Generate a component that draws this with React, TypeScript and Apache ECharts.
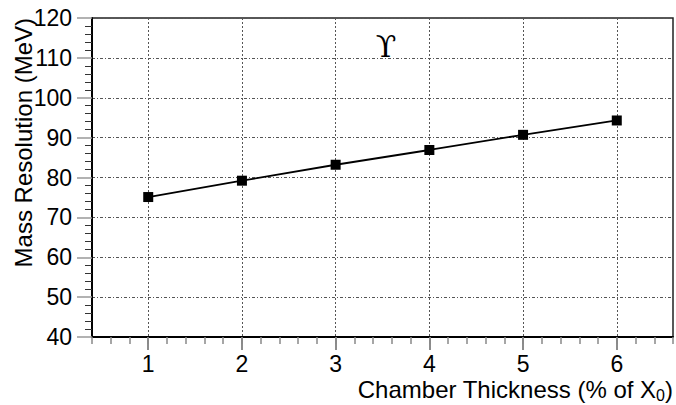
import React, { useEffect, useRef } from "react";
import * as echarts from "echarts";

const thickness = [1, 2, 3, 4, 5, 6];
const massResolution = [75.1, 79.2, 83.2, 86.9, 90.7, 94.3];
const xMajorTicks = [1, 2, 3, 4, 5, 6];
const xTitle = "Chamber Thickness (% of X{sub|0})";
const yTitle = "Mass Resolution (MeV)";
const annotation = "\u03D2";

const FONT = "'Liberation Sans', Arial, Helvetica, sans-serif";

export default function App() {
  const ref = useRef<HTMLDivElement>(null);
  useEffect(() => {
    if (!ref.current) return;
    const chart = echarts.init(ref.current, null, { renderer: "svg" });
    chart.setOption({
      animation: false,
      backgroundColor: "#fff",
      textStyle: { fontFamily: FONT },
      grid: {
        left: 92,
        top: 18,
        right: 3,
        bottom: 68,
        show: true,
        borderColor: "#222",
        borderWidth: 1.5,
        backgroundColor: "transparent",
      },
      xAxis: [
        {
          type: "value",
          min: 0.4,
          max: 6.6,
          position: "bottom",
          axisLine: { show: true, lineStyle: { color: "#000", width: 2 } },
          axisTick: {
            show: true,
            customValues: xMajorTicks,
            length: 13,
            lineStyle: { color: "#666", width: 1.5 },
          },
          axisLabel: {
            customValues: xMajorTicks,
            fontSize: 23,
            color: "#000",
            margin: 15,
            fontFamily: FONT,
          },
          splitLine: {
            show: true,
            lineStyle: { color: "#555", width: 1, type: [2, 2] },
          },
        },
        {
          type: "value",
          min: 0.4,
          max: 6.6,
          interval: 0.2,
          position: "bottom",
          axisLine: { show: false },
          axisTick: { show: true, length: 7, lineStyle: { color: "#888", width: 1.5 } },
          axisLabel: { show: false },
          splitLine: { show: false },
        },
      ],
      yAxis: {
        type: "value",
        min: 40,
        max: 120,
        interval: 10,
        axisLine: { show: true, lineStyle: { color: "#000", width: 2 } },
        axisTick: { show: true, length: 15, lineStyle: { color: "#999", width: 1.5 } },
        minorTick: { show: true, splitNumber: 5, length: 7, lineStyle: { color: "#333", width: 1 } },
        axisLabel: { fontSize: 23, color: "#000", margin: 20, fontFamily: FONT },
        splitLine: {
          show: true,
          lineStyle: { color: "#555", width: 1, type: [3, 2, 1, 2] },
        },
      },
      graphic: [
        {
          type: "text",
          x: 23,
          y: 18,
          rotation: Math.PI / 2,
          style: {
            text: yTitle,
            fontSize: 24,
            fontFamily: FONT,
            fill: "#000",
            align: "right",
            verticalAlign: "middle",
          },
        },
        {
          type: "text",
          x: 673,
          y: 375,
          style: {
            text: xTitle,
            fontSize: 24,
            fontFamily: FONT,
            fill: "#000",
            align: "right",
            verticalAlign: "top",
            rich: {
              sub: {
                fontSize: 16,
                fontFamily: FONT,
                fill: "#000",
                padding: [12, 0, 0, 0],
              },
            },
          },
        },
        {
          type: "text",
          x: 386,
          y: 46,
          style: {
            text: annotation,
            fontSize: 30,
            fontFamily: "'DejaVu Serif', 'Liberation Serif', serif",
            fill: "#000",
            align: "center",
            verticalAlign: "middle",
          },
        },
      ],
      series: [
        {
          type: "line",
          xAxisIndex: 0,
          data: thickness.map((x, i) => [x, massResolution[i]]),
          symbol: "rect",
          symbolSize: 10,
          lineStyle: { color: "#000", width: 1.8 },
          itemStyle: { color: "#000" },
        },
      ],
    });
    return () => chart.dispose();
  }, []);
  return <div ref={ref} style={{ width: 676, height: 405, position: "fixed", left: 0, top: 0 }} />;
}
